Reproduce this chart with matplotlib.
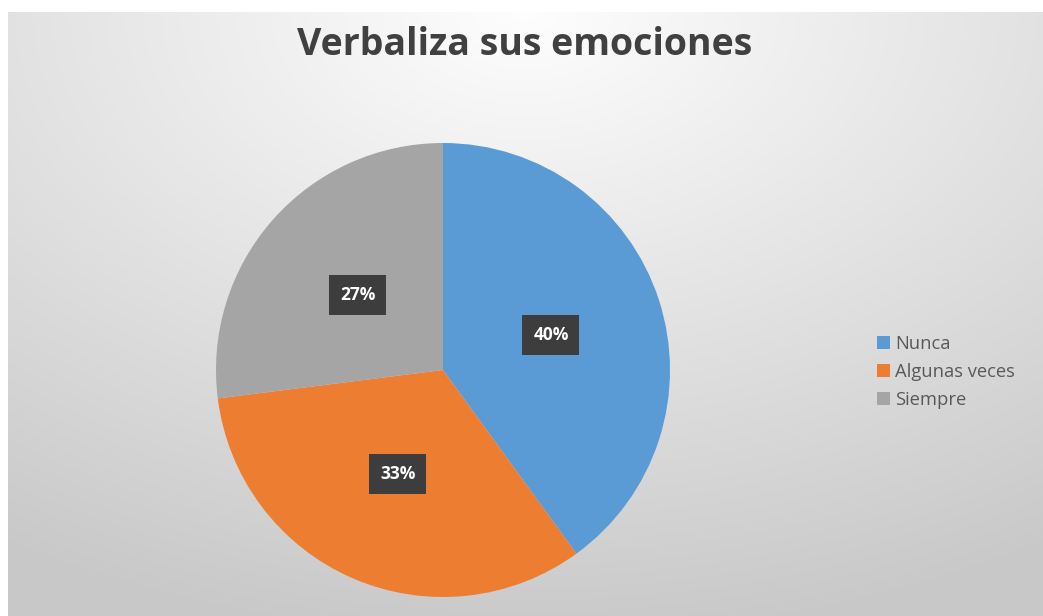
import numpy as np
import matplotlib.pyplot as plt
from matplotlib.patches import Patch

# Datos
categorias = ["Nunca", "Algunas veces", "Siempre"]
valores = [40, 33, 27]
colores = ["#5b9bd5", "#ed7d31", "#a5a5a5"]
titulo = "Verbaliza sus emociones"

W, H = 1043, 616
fig = plt.figure(figsize=(W / 100, H / 100), dpi=100, facecolor="white")

# Fondo con degradado radial (claro arriba en el centro, gris abajo)
bg = fig.add_axes([8 / W, 0, (W - 8) / W, (H - 12) / H])
yy, xx = np.mgrid[0:1:300j, 0:1:500j]
d = np.sqrt(((xx - 0.5) * 1.1) ** 2 + (yy * 1.0) ** 2)
d = np.clip(d / 1.05, 0, 1)
luz = 0.995 - 0.21 * d
bg.imshow(np.dstack([luz, luz, luz]), aspect="auto", extent=[0, 1, 0, 1])
bg.set_axis_off()

# Pastel: centro (443, 370), radio 227 px
cx, cy, r = 443, 370, 227
ax = fig.add_axes([(cx - r) / W, (H - cy - r) / H, 2 * r / W, 2 * r / H])
wedges, textos, autotextos = ax.pie(
    valores, colors=colores, startangle=90, counterclock=False,
    autopct="%1.0f%%", pctdistance=0.5, radius=1,
    wedgeprops=dict(linewidth=0),
    textprops=dict(color="white", fontsize=12.5, fontweight="bold", family="Open Sans"),
)
for t in autotextos:
    t.set_bbox(dict(boxstyle="square,pad=0.62", facecolor="#3d3d3d", edgecolor="none"))
ax.set_xlim(-1, 1)
ax.set_ylim(-1, 1)
ax.set_aspect("equal")

fig.text(525 / W, 1 - 45 / H, titulo, ha="center", va="center",
         fontsize=27, fontweight="bold", color="#404040", family="Open Sans")

handles = [Patch(facecolor=c, edgecolor="none") for c in colores]
fig.legend(handles, categorias, loc="center left", bbox_to_anchor=(860 / W, 1 - 372 / H),
           frameon=False, labelcolor="#595959", handlelength=0.75,
           handleheight=0.75, handletextpad=0.25, labelspacing=0.55,
           prop=dict(family="Open Sans", size=13.2))

fig.savefig("out.png", dpi=100)
